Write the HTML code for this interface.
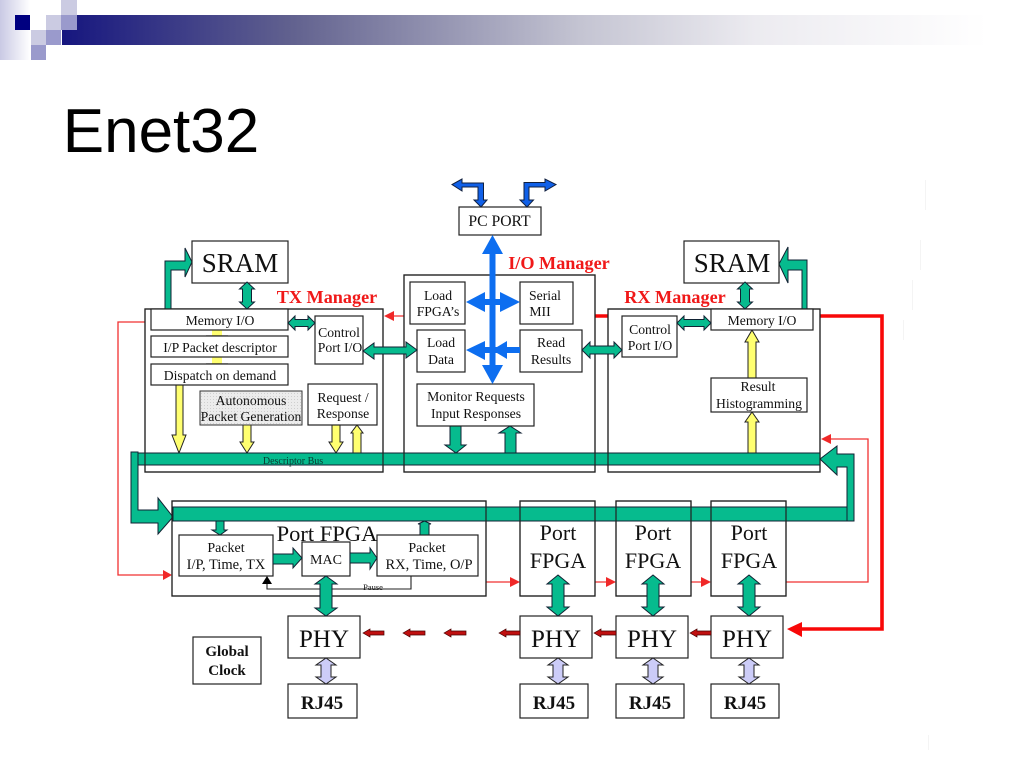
<!DOCTYPE html>
<html><head><meta charset="utf-8"><title>Enet32</title>
<style>
html,body{margin:0;padding:0;background:#fff;width:1024px;height:768px;overflow:hidden}
svg{display:block;filter:blur(.3px)}
text{font-family:"Liberation Serif",serif;text-anchor:middle;fill:#111}
.b{fill:#fff;stroke:#222;stroke-width:1.2}
.n{fill:none;stroke:#222;stroke-width:1.2}
.g{fill:#06bb8e;stroke:#123;stroke-width:1}
.y{fill:#ffff70;stroke:#222;stroke-width:1}
.l{fill:#ccccf8;stroke:#222;stroke-width:1}
.u{fill:#0d6ef0;stroke:none}
.d{fill:#1060e8;stroke:#102040;stroke-width:1}
.r{fill:#c01010;stroke:#400;stroke-width:.7}
.t{fill:#f02828;stroke:none}
.rl{fill:none;stroke:#f03030;stroke-width:1.3}
.rh{fill:none;stroke:#f80808;stroke-width:3.6}
.m{font-size:13.7px}
.h{font-weight:bold;fill:#f01818;font-size:18.2px}
.big{font-size:22px}
.sr{font-size:27px}
.ph{font-size:25px}
.rj{font-size:19px;font-weight:bold}
</style></head>
<body>
<svg width="1024" height="768" viewBox="0 0 1024 768" xmlns="http://www.w3.org/2000/svg">
<defs>
<linearGradient id="bar" x1="0" x2="1" y1="0" y2="0">
<stop offset="0" stop-color="#16167f"/>
<stop offset=".25" stop-color="#62628f"/>
<stop offset=".56" stop-color="#c4c4d2"/>
<stop offset=".75" stop-color="#ecebf0"/>
<stop offset="1" stop-color="#ffffff"/>
</linearGradient>
<linearGradient id="side" x1="0" x2="1" y1="0" y2="0">
<stop offset="0" stop-color="#c9c9e4"/>
<stop offset="1" stop-color="#ffffff"/>
</linearGradient>
<pattern id="dots" width="3" height="3" patternUnits="userSpaceOnUse">
<rect width="3" height="3" fill="#ececec"/><rect width="1" height="1" fill="#cfcfcf"/>
</pattern>
</defs>

<!-- Header decoration -->
<rect x="0" y="0" width="30" height="60" fill="url(#side)"/>
<rect x="62" y="15" width="925" height="30" fill="url(#bar)"/>
<rect x="15" y="15" width="15" height="15" fill="#000080"/>
<rect x="31" y="15" width="15" height="15" fill="#fff"/>
<rect x="46" y="15" width="15" height="15" fill="#cbcbe2"/>
<rect x="61" y="15" width="16" height="15" fill="#9a9acc"/>
<rect x="61" y="0" width="16" height="15" fill="#cbcbe2"/>
<rect x="31" y="30" width="15" height="15" fill="#cbcbe2"/>
<rect x="46" y="30" width="15" height="15" fill="#9a9acc"/>
<rect x="31" y="45" width="15" height="15" fill="#9a9acc"/>

<text x="161" y="152" style="font-family:'Liberation Sans',sans-serif;font-size:62px;fill:#000">Enet32</text>

<!-- Faint specks -->
<g fill="#f4f4f4">
<rect x="925" y="180" width="1" height="30"/><rect x="920" y="240" width="1" height="30"/>
<rect x="912" y="280" width="1" height="30"/><rect x="903" y="320" width="1" height="20"/>
<rect x="928" y="735" width="1" height="15"/>
</g>

<!-- Thin red lines (behind boxes) -->
<path class="rl" d="M145 322H118V575H164"/>
<path class="rl" d="M486 582H512M595 582H608M691 582H703"/>
<path class="rl" d="M786 582H868V439H830"/>
<path class="rl" d="M410 316H392"/>
<polygon class="t" points="172,575 163,570 163,580"/>
<polygon class="t" points="520,582 510,577 510,587"/>
<polygon class="t" points="616,582 606,577 606,587"/>
<polygon class="t" points="711,582 701,577 701,587"/>
<polygon class="t" points="821,439 831,434 831,444"/>
<polygon class="t" points="384,316 394,311 394,321"/>

<!-- Thick red -->
<path class="rh" d="M573 316H608"/>
<path class="rh" d="M820 316H882V629H800"/>
<polygon fill="#f80808" points="787,629 802,622 802,637"/>

<!-- Manager boxes -->
<rect class="b" x="145" y="309" width="238" height="163"/>
<rect class="b" x="404" y="275" width="191" height="197"/>
<rect class="b" x="608" y="309" width="212" height="163"/>

<!-- Port FPGA boxes -->
<rect class="b" x="172" y="501" width="314" height="95"/>
<rect class="b" x="520" y="501" width="75" height="95"/>
<rect class="b" x="616" y="501" width="75" height="95"/>
<rect class="b" x="711" y="501" width="75" height="95"/>

<!-- SRAM bent arrows -->
<polygon class="g" points="165,309 165,261 185,261 185,248 192,262 185,277 185,270 171,270 171,309"/>
<polygon class="g" points="802,309 802,270 788,270 788,283 779,264 788,247 788,260 807,260 807,309"/>

<!-- Yellow arrows -->
<rect x="212" y="330" width="10" height="6" fill="#ffff70"/>
<rect x="212" y="357" width="10" height="7" fill="#ffff70"/>
<path d="M206 336H228M206 364H228" stroke="#111" stroke-width="1.2" fill="none"/>
<polygon class="y" points="176,385 183,385 183,435 186,435 179,453 172,435 176,435"/>
<polygon class="y" points="243,425 251,425 251,442 254,442 247,453 240,442 243,442"/>
<polygon class="y" points="332,425 340,425 340,442 343,442 336,453 329,442 332,442"/>
<polygon class="y" points="353,453 361,453 361,433 363,433 357,425 351,433 353,433"/>
<polygon class="y" points="748,378 756,378 756,342 759,342 752,330 745,342 748,342"/>
<polygon class="y" points="748,453 756,453 756,422 759,422 752,412 745,422 748,422"/>

<!-- IO green arrows -->
<polygon class="g" points="450,426 461,426 461,445 466,445 456,453 445,445 450,445"/>
<polygon class="g" points="505,453 516,453 516,433 521,433 510,426 499,433 505,433"/>

<!-- Descriptor bus -->
<polygon class="g" points="131,452 138,452 138,510 158,510 158,498 173,517 158,534 158,523 131,523"/>
<rect class="g" x="138" y="453" width="682" height="12"/>
<polygon class="g" points="820,459 837,446 837,454 854,454 854,521 847,521 847,467 837,467 837,475"/>
<rect class="g" x="173" y="507" width="674" height="14"/>

<!-- Redraw box outlines over bus -->
<path class="n" d="M145 472V309H383V472Z M404 472V275H595V472Z M608 472V309H820V472Z"/>
<path class="n" d="M172 596V501H486V596Z M520 596V501H595V596Z M616 596V501H691V596Z M711 596V501H786V596Z"/>

<text x="293" y="464" style="font-size:10px;fill:#0a3a30">Descriptor Bus</text>

<!-- Top boxes -->
<rect class="b" x="192" y="241" width="96" height="42"/>
<rect class="b" x="684" y="241" width="95" height="42"/>
<rect class="b" x="459" y="207" width="82" height="28"/>
<text x="240" y="272" class="sr">SRAM</text>
<text x="732" y="272" class="sr">SRAM</text>
<text x="499.500" y="226" style="font-size:15.700px">PC PORT</text>

<!-- Headings -->
<text x="327" y="303" class="h">TX Manager</text>
<text x="559" y="269" class="h">I/O Manager</text>
<text x="675" y="303" class="h">RX Manager</text>

<!-- TX contents -->
<rect class="b" x="151" y="309" width="137" height="21"/>
<rect class="b" x="151" y="336" width="137" height="21"/>
<rect class="b" x="151" y="364" width="137" height="21"/>
<rect x="200" y="391" width="102" height="34" fill="url(#dots)" stroke="#333"/>
<rect class="b" x="308" y="384" width="69" height="41"/>
<rect class="b" x="315" y="316" width="48" height="48"/>
<text x="220" y="325" class="m">Memory I/O</text>
<text x="220" y="352" class="m">I/P Packet descriptor</text>
<text x="220" y="380" class="m">Dispatch on demand</text>
<text x="251" y="405" class="m">Autonomous</text>
<text x="251" y="421" class="m">Packet Generation</text>
<text x="343" y="402" class="m">Request /</text>
<text x="343" y="418" class="m">Response</text>
<text x="339" y="337" class="m">Control</text>
<text x="340" y="352" class="m">Port I/O</text>

<!-- IO contents -->
<rect class="b" x="410" y="282" width="55" height="42"/>
<rect class="b" x="520" y="282" width="53" height="42"/>
<rect class="b" x="417" y="330" width="48" height="42"/>
<rect class="b" x="520" y="330" width="62" height="42"/>
<rect class="b" x="417" y="384" width="117" height="42"/>
<text x="438" y="300" class="m">Load</text>
<text x="438" y="316" class="m">FPGA’s</text>
<text x="545" y="300" class="m">Serial</text>
<text x="540" y="316" class="m">MII</text>
<text x="441" y="347" class="m">Load</text>
<text x="441" y="364" class="m">Data</text>
<text x="551" y="347" class="m">Read</text>
<text x="551" y="364" class="m">Results</text>
<text x="476" y="401" class="m">Monitor Requests</text>
<text x="476" y="418" class="m">Input Responses</text>

<!-- RX contents -->
<rect class="b" x="622" y="316" width="55" height="41"/>
<rect class="b" x="711" y="309" width="102" height="21"/>
<rect class="b" x="711" y="378" width="96" height="34"/>
<text x="650" y="334" class="m">Control</text>
<text x="650" y="350" class="m">Port I/O</text>
<text x="762" y="325" class="m">Memory I/O</text>
<text x="758" y="391" class="m">Result</text>
<text x="759" y="408" class="m">Histogramming</text>

<!-- Green double arrows -->
<polygon class="g" points="247,282 254.500,289 251.500,289 251.500,302 254.500,302 247,309 239.500,302 242.500,302 242.500,289 239.500,289"/>
<polygon class="g" points="745,282 752.500,289 749.500,289 749.500,302 752.500,302 745,309 737.500,302 740.500,302 740.500,289 737.500,289"/>
<polygon class="g" points="288,323 295,316 295,319.500 308,319.500 308,316 315,323 308,330 308,326.500 295,326.500 295,330"/>
<polygon class="g" points="677,323 684,316 684,319.500 704,319.500 704,316 711,323 704,330 704,326.500 684,326.500 684,330"/>
<polygon class="g" points="363,351 374,343 374,347 406,347 406,342 417,350 406,358 406,354 374,354 374,359"/>
<polygon class="g" points="582,350 590,342 590,346 614,346 614,342 622,350 614,358 614,354 590,354 590,358"/>

<!-- Blue arrows -->
<polygon class="u" points="492.500,235 503,254 495.500,254 495.500,365 503,365 492.500,384 482,365 489.500,365 489.500,254 482,254"/>
<polygon class="u" points="466,302 485,292 485,299 500,299 500,292 520,302 500,312 500,305 485,305 485,312"/>
<polygon class="u" points="466,350 485,341 485,347 497,347 507,341 507,347 520,347 520,353 507,353 507,359 497,353 485,353 485,360"/>
<polygon class="d" points="481,207 487,200 483.500,200 483.500,183 462,183 462,179 452,184.500 462,191 462,187 478,187 478,200 474,200"/>
<polygon class="d" points="527,207 533.500,200 529,200 529,187 545,187 545,191 556,184.500 545,179 545,182.500 524,182.500 524,200 520,200"/>

<!-- Port FPGA 1 inside -->
<polygon class="g" points="216,521 224,521 224,530 227,530 220,535 212,530 216,530"/>
<polygon class="g" points="420,535 429,535 429,524 431,524 424.500,521 418,524 420,524"/>
<rect class="b" x="179" y="535" width="94" height="41"/>
<rect class="b" x="302" y="542" width="48" height="34"/>
<rect class="b" x="377" y="535" width="101" height="41"/>
<polygon class="g" points="273,554 293,554 293,548 302,558 293,568 293,564 273,564"/>
<polygon class="g" points="350,553 370,553 370,548 377,558 370,569 370,563 350,563"/>
<text x="327" y="541" style="font-size:22.500px">Port FPGA</text>
<text x="226" y="552" style="font-size:14px">Packet</text>
<text x="226" y="569" style="font-size:14.500px">I/P, Time, TX</text>
<text x="326" y="564" style="font-size:14px">MAC</text>
<text x="427" y="552" style="font-size:14px">Packet</text>
<text x="429" y="569" style="font-size:14.500px">RX, Time, O/P</text>
<path d="M411 576V589H267V583" fill="none" stroke="#222" stroke-width="1.100"/>
<polygon fill="#000" points="267,576 272,584 262,584"/>
<text x="373" y="590" style="font-size:8.500px">Pause</text>

<!-- Other Port FPGA labels -->
<text x="558" y="540" class="big">Port</text><text x="558" y="568" class="big">FPGA</text>
<text x="653" y="540" class="big">Port</text><text x="653" y="568" class="big">FPGA</text>
<text x="749" y="540" class="big">Port</text><text x="749" y="568" class="big">FPGA</text>

<!-- PHY boxes -->
<rect class="b" x="288" y="616" width="72" height="42"/>
<rect class="b" x="520" y="616" width="72" height="42"/>
<rect class="b" x="616" y="616" width="72" height="42"/>
<rect class="b" x="711" y="616" width="72" height="42"/>
<text x="324" y="647" class="ph">PHY</text>
<text x="556" y="647" class="ph">PHY</text>
<text x="652" y="647" class="ph">PHY</text>
<text x="747" y="647" class="ph">PHY</text>

<!-- RJ45 boxes -->
<rect class="b" x="288" y="684" width="69" height="34"/>
<rect class="b" x="520" y="684" width="68" height="34"/>
<rect class="b" x="616" y="684" width="68" height="34"/>
<rect class="b" x="711" y="684" width="68" height="34"/>
<text x="322" y="709" class="rj">RJ45</text>
<text x="554" y="709" class="rj">RJ45</text>
<text x="650" y="709" class="rj">RJ45</text>
<text x="745" y="709" class="rj">RJ45</text>

<rect class="b" x="193" y="637" width="68" height="47"/>
<text x="227" y="656" style="font-size:15px;font-weight:bold">Global</text>
<text x="227" y="675" style="font-size:15px;font-weight:bold">Clock</text>

<!-- FPGA to PHY arrows -->
<polygon class="g" points="326,576 337,584 332,584 332,608 337,608 326,616 315,608 320,608 320,584 315,584"/>
<polygon class="g" points="558,575 569,584 564,584 564,607 569,607 558,616 547,607 552,607 552,584 547,584"/>
<polygon class="g" points="653,575 664,584 659,584 659,607 664,607 653,616 642,607 647,607 647,584 642,584"/>
<polygon class="g" points="749,575 760,584 755,584 755,607 760,607 749,616 738,607 743,607 743,584 738,584"/>

<!-- PHY to RJ45 arrows -->
<polygon class="l" points="326,658 336,665 331,665 331,677 336,677 326,684 316,677 321,677 321,665 316,665"/>
<polygon class="l" points="558,658 568,665 563,665 563,677 568,677 558,684 548,677 553,677 553,665 548,665"/>
<polygon class="l" points="653,658 663,665 658,665 658,677 663,677 653,684 643,677 648,677 648,665 643,665"/>
<polygon class="l" points="749,658 759,665 754,665 754,677 759,677 749,684 739,677 744,677 744,665 739,665"/>

<!-- Dark red small arrows -->
<polygon class="r" points="363,633 370,629 370,631 384,631 384,635 370,635 370,637"/>
<polygon class="r" points="403,633 410,629 410,631 425,631 425,635 410,635 410,637"/>
<polygon class="r" points="444,633 451,629 451,631 466,631 466,635 451,635 451,637"/>
<polygon class="r" points="499,633 506,629 506,631 520,631 520,635 506,635 506,637"/>
<polygon class="r" points="594,633 601,629 601,631 616,631 616,635 601,635 601,637"/>
<polygon class="r" points="690,633 697,629 697,631 711,631 711,635 697,635 697,637"/>
</svg>
</body></html>
